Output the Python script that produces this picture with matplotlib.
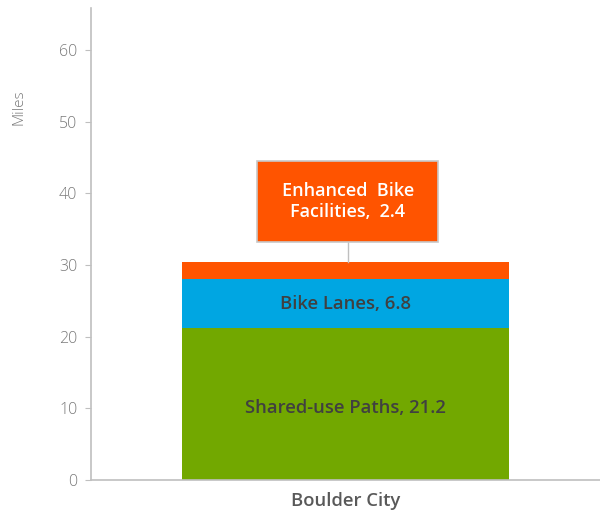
import matplotlib.pyplot as plt
from matplotlib.patches import Rectangle

plt.rcParams['font.family'] = ['Open Sans', 'DejaVu Sans']

# data
categories = ['Boulder City']
segments = ['Shared-use Paths', 'Bike Lanes', 'Enhanced Bike Facilities']
values = [21.2, 6.8, 2.4]
colors = ['#72a800', '#00a6e2', '#ff5400']
yticks = [0, 10, 20, 30, 40, 50, 60]

fig = plt.figure(figsize=(6, 5.15), dpi=100)
ax = fig.add_axes([0.152, 0.068, 0.848, 0.916])

bottom = 0
for name, val, col in zip(segments, values, colors):
    ax.bar(0, val, bottom=bottom, width=0.643, color=col, linewidth=0)
    bottom += val
total = bottom

# labels inside bars
ax.text(0, values[0] / 2 - 0.5, f'{segments[0]}, {values[0]}', ha='center', va='center',
        fontsize=13.3, fontweight='semibold', color='#404040')
ax.text(0, values[0] + values[1] / 2 - 0.1, f'{segments[1]}, {values[1]}', ha='center', va='center',
        fontsize=13.3, fontweight='semibold', color='#404040')

# callout for the small segment
box_lo, box_hi = 33.2, 44.5
ax.add_patch(Rectangle((-0.174, box_lo), 0.356, box_hi - box_lo, facecolor=colors[2],
                       edgecolor='#c8c8c8', linewidth=1.2, zorder=3))
ax.plot([0.004, 0.004], [total, box_lo], color='#bfbfbf', linewidth=1, zorder=2)
ax.text(0.004, (box_lo + box_hi) / 2, 'Enhanced  Bike\nFacilities,  2.4', ha='center', va='center',
        fontsize=13, fontweight='semibold', color='white', linespacing=1.15, zorder=4)

ax.set_xlim(-0.5, 0.5)
ax.set_ylim(0, 65.8)
ax.set_yticks(yticks)
ax.set_xticks([0])
ax.set_xticklabels(categories, fontsize=13.3, fontweight='semibold', color='#595959')
ax.tick_params(axis='x', length=0, pad=9)
ax.tick_params(axis='y', length=4, color='#bfbfbf', labelsize=11.5, labelcolor='#7a7a7a', pad=6)
for lab in ax.get_yticklabels():
    lab.set_fontweight('light')

for s in ['top', 'right']:
    ax.spines[s].set_visible(False)
for s in ['left', 'bottom']:
    ax.spines[s].set_color('#bfbfbf')
    ax.spines[s].set_linewidth(1.2)

ax.set_ylabel('Miles', fontsize=11, fontweight='light', color='#7a7a7a')
ax.yaxis.set_label_coords(-0.127, 0.79)

fig.savefig('out.png', dpi=100)
